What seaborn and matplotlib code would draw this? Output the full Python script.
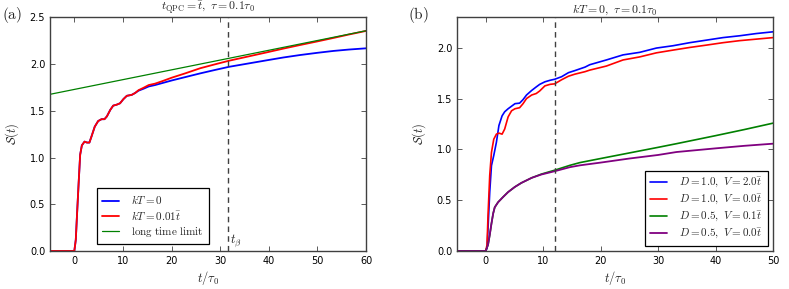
import numpy as np
import pandas as pd
import matplotlib
matplotlib.use("Agg")
import matplotlib.pyplot as plt
import seaborn as sns

# ---------------- data: panel (a) ----------------
t_a = [-5, -1, 0, 0.3, 0.55, 0.9, 1.2, 1.55, 2.1, 2.6, 3.1, 3.5, 4.2, 4.9, 5.6, 6.2,
       6.7, 7.4, 8.0, 8.7, 9.4, 10.1, 10.8, 11.8, 12.5, 13.2, 14.2, 15.3, 16.6, 18.0,
       20.1, 22.8, 25.9, 28.8, 31.8, 35.7, 39.6, 43.0, 46.4, 50.0, 53.3, 56.5, 60]
S_a_kT0 = [0, 0, 0, 0.12, 0.385, 0.74, 1.03, 1.13, 1.17, 1.16, 1.16, 1.22, 1.33, 1.39,
           1.41, 1.41, 1.44, 1.51, 1.555, 1.565, 1.58, 1.625, 1.66, 1.67, 1.69, 1.715,
           1.735, 1.76, 1.775, 1.795, 1.825, 1.86, 1.90, 1.935, 1.97, 2.005, 2.04, 2.07,
           2.096, 2.12, 2.14, 2.155, 2.168]
S_a_kT001 = [0, 0, 0, 0.12, 0.385, 0.74, 1.03, 1.13, 1.17, 1.16, 1.16, 1.22, 1.33, 1.39,
             1.41, 1.41, 1.44, 1.51, 1.555, 1.565, 1.58, 1.625, 1.66, 1.67, 1.69, 1.72,
             1.745, 1.775, 1.79, 1.815, 1.855, 1.90, 1.955, 1.995, 2.035, 2.08, 2.125,
             2.165, 2.203, 2.242, 2.279, 2.316, 2.354]
t_long = [-5, 10, 25, 40, 60]
S_long = [1.676, 1.833, 1.990, 2.147, 2.356]
t_beta = 31.7

# ---------------- data: panel (b) ----------------
t_b1 = [-5, -0.5, 0, 0.23, 0.4, 0.7, 1.0, 1.4, 1.86, 2.3, 2.85, 3.3, 3.9, 4.5, 5.1, 5.9,
        6.5, 7.1, 8.0, 8.8, 9.4, 10.3, 11.2, 12.0, 13.2, 14.4, 15.5, 17.3, 18.1, 21.0,
        23.9, 26.8, 29.7, 32.6, 35.5, 38.4, 41.3, 44.2, 47.1, 50]
S_b_D1_V2 = [0, 0, 0, 0.03, 0.22, 0.58, 0.84, 0.94, 1.07, 1.235, 1.33, 1.37, 1.40, 1.425,
             1.45, 1.455, 1.49, 1.535, 1.58, 1.615, 1.64, 1.665, 1.68, 1.69, 1.715, 1.755,
             1.775, 1.81, 1.833, 1.88, 1.93, 1.955, 1.997, 2.02, 2.05, 2.075, 2.10, 2.118,
             2.14, 2.157]
S_b_D1_V0 = [0, 0, 0, 0.06, 0.35, 0.745, 0.97, 1.10, 1.15, 1.16, 1.15, 1.20, 1.32, 1.38,
             1.40, 1.41, 1.45, 1.50, 1.535, 1.55, 1.575, 1.625, 1.64, 1.645, 1.685, 1.72,
             1.74, 1.765, 1.78, 1.82, 1.88, 1.91, 1.95, 1.977, 2.003, 2.026, 2.05, 2.07,
             2.085, 2.10]
t_b2 = [-5, -0.3, 0, 0.4, 0.7, 1.0, 1.3, 1.57, 2.15, 3.0, 3.9, 5.06, 6.2, 8.0, 9.7, 12.0,
        14.65, 16.4, 20, 25, 30, 33.2, 40, 45, 50]
S_b_D05_V01 = [0, 0, 0, 0.06, 0.157, 0.27, 0.37, 0.43, 0.48, 0.53, 0.58, 0.63, 0.67, 0.72,
               0.757, 0.795, 0.843, 0.87, 0.91, 0.965, 1.02, 1.056, 1.135, 1.195, 1.258]
S_b_D05_V00 = [0, 0, 0, 0.06, 0.157, 0.27, 0.37, 0.43, 0.48, 0.53, 0.58, 0.63, 0.67, 0.72,
               0.753, 0.785, 0.825, 0.843, 0.87, 0.91, 0.945, 0.974, 1.01, 1.035, 1.056]
t_b_mark = 12.0

labels_a = [r"$kT=0$", r"$kT=0.01\bar{t}$", r"$\mathrm{long\ time\ limit}$"]
labels_b = [r"$D=1.0,\ V=2.0\bar{t}$", r"$D=1.0,\ V=0.0\bar{t}$",
            r"$D=0.5,\ V=0.1\bar{t}$", r"$D=0.5,\ V=0.0\bar{t}$"]

# ---------------- style ----------------
sns.set_style("ticks", {"xtick.direction": "in", "ytick.direction": "in"})
plt.rcParams.update({
    "font.family": ["DejaVu Sans"],
    "mathtext.fontset": "cm",
    "xtick.top": True, "ytick.right": True,
    "xtick.major.size": 3.5, "ytick.major.size": 3.5,
    "xtick.major.width": 0.6, "ytick.major.width": 0.6,
    "xtick.labelsize": 7, "ytick.labelsize": 7,
    "axes.edgecolor": "0.25", "axes.linewidth": 1.0,
    "xtick.color": "0.25", "ytick.color": "0.25",
    "xtick.labelcolor": "black", "ytick.labelcolor": "black",
})

fig = plt.figure(figsize=(7.89, 2.89), dpi=100)
axA = fig.add_axes([0.0634, 0.1315, 0.4005, 0.8087])
axB = fig.add_axes([0.5792, 0.1315, 0.4005, 0.8087])

def line(ax, x, y, color, lw, label):
    df = pd.DataFrame({"t": x, "S": y})
    sns.lineplot(data=df, x="t", y="S", ax=ax, color=color, lw=lw, label=label,
                 estimator=None, sort=False)

# panel (a)
line(axA, t_a, S_a_kT0, (0, 0, 1), 1.3, labels_a[0])
line(axA, t_a, S_a_kT001, (1, 0, 0), 1.3, labels_a[1])
line(axA, t_long, S_long, (0, 0.5, 0), 0.9, labels_a[2])
axA.axvline(t_beta, color="0.25", ls=(0, (4, 3)), lw=1.0)
axA.text(t_beta + 0.3, 0.02, r"$t_\beta$", fontsize=9, ha="left", va="bottom")
axA.set_xlim(-5, 60)
axA.set_ylim(0, 2.5)
axA.set_xticks([0, 10, 20, 30, 40, 50, 60])
axA.set_yticks([0.0, 0.5, 1.0, 1.5, 2.0, 2.5])
axA.set_title(r"$t_{\rm QPC}=\bar{t},\ \tau=0.1\tau_0$", fontsize=8.5, pad=2)
axA.set_xlabel(r"$t/\tau_0$", fontsize=9, labelpad=2)
axA.set_ylabel(r"$\mathcal{S}(t)$", fontsize=9, labelpad=6)
legA = axA.legend(loc="lower left", bbox_to_anchor=(0.149, 0.03), borderaxespad=0,
                  fontsize=8, frameon=True, fancybox=False, framealpha=1,
                  edgecolor="black", handlelength=1.5, handletextpad=1.1,
                  labelspacing=0.25, borderpad=0.45)
legA.get_frame().set_linewidth(0.9)

# panel (b)
line(axB, t_b1, S_b_D1_V2, (0, 0, 1), 1.2, labels_b[0])
line(axB, t_b1, S_b_D1_V0, (1, 0, 0), 1.2, labels_b[1])
line(axB, t_b2, S_b_D05_V01, (0, 0.5, 0), 1.2, labels_b[2])
line(axB, t_b2, S_b_D05_V00, (0.5, 0, 0.5), 1.3, labels_b[3])
axB.axvline(t_b_mark, color="0.25", ls=(0, (4, 3)), lw=1.0)
axB.set_xlim(-5, 50)
axB.set_ylim(0, 2.3)
axB.set_xticks([0, 10, 20, 30, 40, 50])
axB.set_yticks([0.0, 0.5, 1.0, 1.5, 2.0])
axB.set_title(r"$kT=0,\ \tau=0.1\tau_0$", fontsize=8.5, pad=2)
axB.set_xlabel(r"$t/\tau_0$", fontsize=9, labelpad=2)
axB.set_ylabel(r"$\mathcal{S}(t)$", fontsize=9, labelpad=6)
legB = axB.legend(loc="lower right", bbox_to_anchor=(0.983, 0.023), borderaxespad=0,
                  fontsize=8, frameon=True, fancybox=False, framealpha=1,
                  edgecolor="black", handlelength=1.5, handletextpad=1.1,
                  labelspacing=0.25, borderpad=0.45)
legB.get_frame().set_linewidth(0.9)

for ax in (axA, axB):
    for s in ax.spines.values():
        s.set_visible(True)

fig.text(0.003, 1 - 15 / 289, r"$\mathrm{(a)}$", fontsize=11, ha="left", va="center")
fig.text(408 / 789, 1 - 15 / 289, r"$\mathrm{(b)}$", fontsize=11, ha="left", va="center")

fig.savefig("out.png", dpi=100)
